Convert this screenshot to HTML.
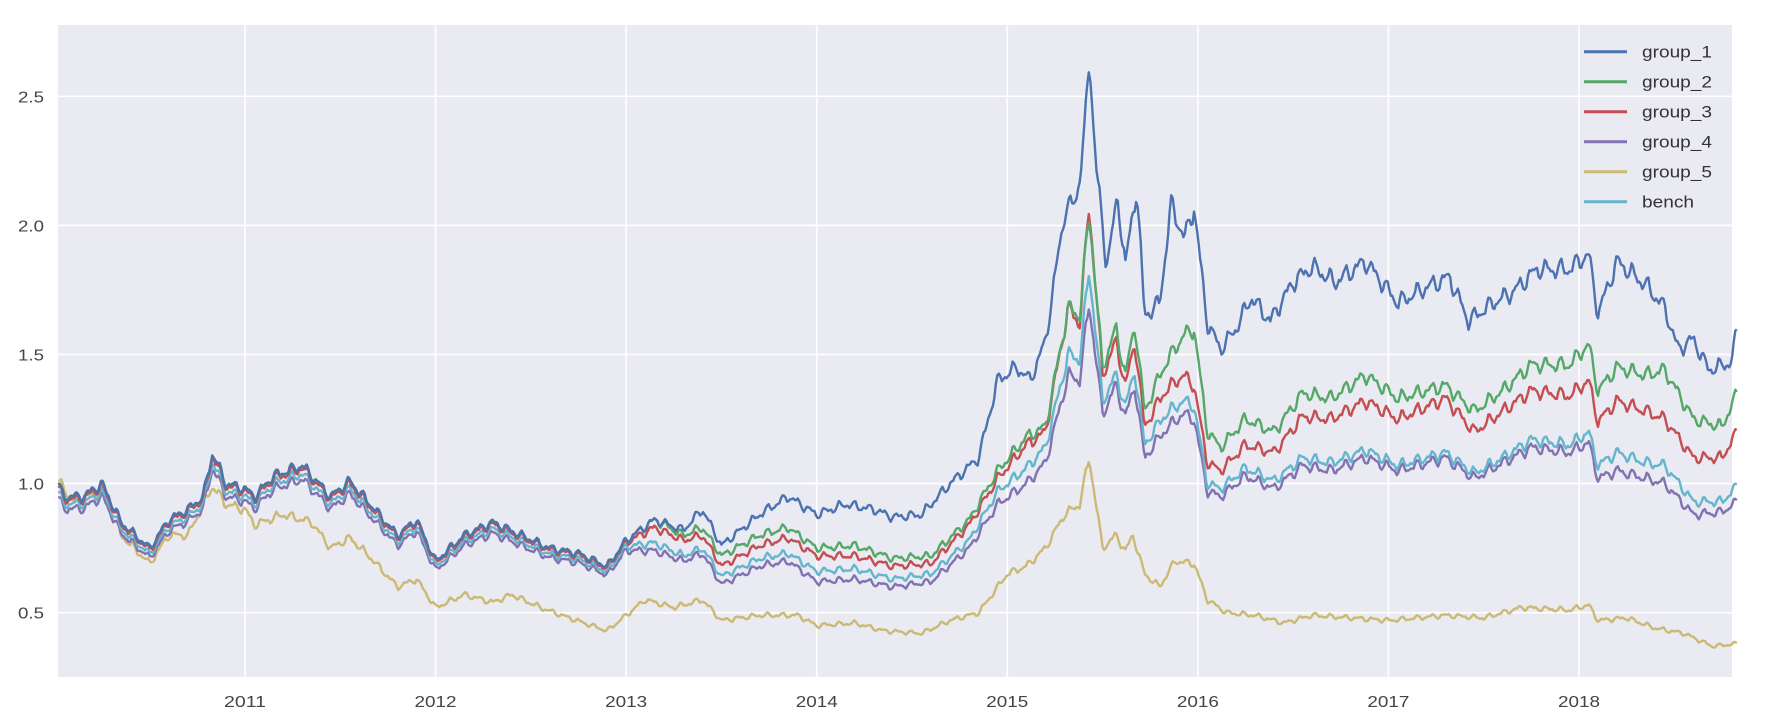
<!DOCTYPE html>
<html><head><meta charset="utf-8"><style>
body{margin:0;background:#fff;}
svg{display:block;font-family:"Liberation Sans",sans-serif;}
</style></head><body>
<svg id="s" width="1771" height="727" xmlns="http://www.w3.org/2000/svg">
<rect x="58" y="25" width="1674" height="652" fill="#EAEAF2"/>
<g id="grid" stroke="#fff" stroke-width="1.6"></g>
<g id="lbl" fill="#444" font-size="16"></g>
<g id="lines" fill="none" stroke-width="2.4" stroke-linejoin="round"></g>
<g id="leg" font-size="17" fill="#333"></g>
</svg>
<script>
var X0=58,X1=1732,Y0=25,Y1=677;
function xs(t){return 245+(t-2011)*190.57;}
function ys(v){return 483.6-(v-1)*258.2;}
var ns="http://www.w3.org/2000/svg";
function el(p,n,a,txt){var e=document.createElementNS(ns,n);for(var k in a)e.setAttribute(k,a[k]);if(txt)e.textContent=txt;document.getElementById(p).appendChild(e);return e;}
[0.5,1,1.5,2,2.5].forEach(function(v){var y=ys(v);el('grid','line',{x1:X0,x2:X1,y1:y,y2:y});el('lbl','text',{x:44,y:y+6,'text-anchor':'end',textLength:26,lengthAdjust:'spacingAndGlyphs'},v.toFixed(1));});
for(var yr=2011;yr<=2018;yr++){var x=xs(yr);el('grid','line',{x1:x,x2:x,y1:Y0,y2:Y1});el('lbl','text',{x:x-21,y:707,textLength:42,lengthAdjust:'spacingAndGlyphs'},''+yr);}
var g1=[[2010,1.03],[2010.05,0.95],[2010.15,0.95],[2010.25,1.0],[2010.35,0.85],[2010.5,0.75],[2010.6,0.86],[2010.7,0.9],[2010.78,0.95],[2010.83,1.12],[2010.9,1.0],[2011.0,0.98],[2011.05,0.95],[2011.15,1.03],[2011.3,1.07],[2011.45,0.95],[2011.55,1.01],[2011.8,0.8],[2011.9,0.86],[2012.0,0.7],[2012.15,0.8],[2012.3,0.85],[2012.45,0.8],[2012.6,0.75],[2012.75,0.73],[2012.9,0.68],[2013.0,0.78],[2013.15,0.86],[2013.3,0.82],[2013.4,0.9],[2013.5,0.76],[2013.7,0.88],[2013.85,0.95],[2014.0,0.88],[2014.15,0.92],[2014.3,0.9],[2014.4,0.87],[2014.55,0.88],[2014.7,1.0],[2014.85,1.1],[2014.95,1.4],[2015.05,1.45],[2015.12,1.4],[2015.2,1.55],[2015.3,2.05],[2015.36,2.1],[2015.4,2.3],[2015.43,2.65],[2015.47,2.2],[2015.52,1.85],[2015.58,2.1],[2015.62,1.85],[2015.68,2.15],[2015.72,1.65],[2015.8,1.7],[2015.86,2.08],[2015.93,1.95],[2015.98,2.07],[2016.05,1.62],[2016.12,1.52],[2016.2,1.6],[2016.28,1.72],[2016.38,1.63],[2016.5,1.78],[2016.6,1.84],[2016.72,1.78],[2016.88,1.86],[2017.05,1.7],[2017.2,1.76],[2017.32,1.8],[2017.42,1.63],[2017.55,1.7],[2017.65,1.74],[2017.78,1.83],[2017.95,1.83],[2018.05,1.89],[2018.1,1.66],[2018.2,1.86],[2018.35,1.77],[2018.45,1.68],[2018.52,1.52],[2018.6,1.56],[2018.68,1.44],[2018.8,1.47],[2018.83,1.6]];
function early(s,end){return g1.filter(function(p){return p[0]<=end;}).map(function(p){return [p[0],p[1]*s];});}
function mk(s,later){return early(s,2013.0).concat(later);}
var g2=mk(1.0,[[2013.15,0.86],[2013.3,0.8],[2013.4,0.83],[2013.5,0.72],[2013.7,0.8],[2013.85,0.83],[2014.0,0.75],[2014.2,0.76],[2014.4,0.71],[2014.6,0.72],[2014.8,0.86],[2014.95,1.05],[2015.1,1.18],[2015.2,1.22],[2015.32,1.68],[2015.38,1.65],[2015.43,2.05],[2015.5,1.45],[2015.57,1.6],[2015.62,1.42],[2015.67,1.62],[2015.72,1.28],[2015.82,1.45],[2015.92,1.57],[2015.98,1.6],[2016.05,1.2],[2016.12,1.14],[2016.25,1.25],[2016.4,1.2],[2016.55,1.35],[2016.7,1.33],[2016.88,1.42],[2017.05,1.33],[2017.3,1.38],[2017.45,1.28],[2017.6,1.36],[2017.75,1.46],[2017.95,1.46],[2018.05,1.54],[2018.1,1.36],[2018.2,1.45],[2018.35,1.42],[2018.45,1.44],[2018.6,1.25],[2018.75,1.22],[2018.83,1.35]]);
var g3=mk(0.99,[[2013.15,0.83],[2013.3,0.78],[2013.4,0.8],[2013.5,0.68],[2013.7,0.76],[2013.85,0.79],[2014.0,0.72],[2014.2,0.72],[2014.4,0.68],[2014.6,0.69],[2014.8,0.84],[2014.95,1.02],[2015.1,1.15],[2015.2,1.2],[2015.32,1.68],[2015.38,1.62],[2015.43,2.08],[2015.5,1.42],[2015.57,1.55],[2015.62,1.38],[2015.67,1.55],[2015.72,1.22],[2015.82,1.35],[2015.92,1.42],[2015.98,1.38],[2016.05,1.08],[2016.12,1.05],[2016.25,1.15],[2016.4,1.12],[2016.55,1.26],[2016.7,1.25],[2016.88,1.32],[2017.05,1.25],[2017.3,1.33],[2017.45,1.2],[2017.6,1.28],[2017.75,1.36],[2017.95,1.34],[2018.05,1.4],[2018.1,1.24],[2018.2,1.32],[2018.35,1.28],[2018.45,1.25],[2018.6,1.1],[2018.75,1.1],[2018.83,1.2]]);
var g4=mk(0.95,[[2013.15,0.74],[2013.3,0.7],[2013.4,0.73],[2013.5,0.61],[2013.7,0.68],[2013.85,0.7],[2014.0,0.62],[2014.2,0.63],[2014.4,0.6],[2014.6,0.62],[2014.8,0.75],[2014.95,0.92],[2015.1,1.0],[2015.2,1.08],[2015.32,1.42],[2015.38,1.4],[2015.43,1.7],[2015.5,1.27],[2015.57,1.38],[2015.62,1.26],[2015.67,1.38],[2015.72,1.1],[2015.82,1.2],[2015.92,1.27],[2015.98,1.25],[2016.05,0.97],[2016.12,0.95],[2016.25,1.03],[2016.4,0.98],[2016.55,1.07],[2016.7,1.05],[2016.88,1.1],[2017.05,1.05],[2017.3,1.1],[2017.45,1.02],[2017.6,1.08],[2017.75,1.14],[2017.95,1.12],[2018.05,1.16],[2018.1,1.02],[2018.2,1.05],[2018.35,1.02],[2018.45,1.0],[2018.6,0.88],[2018.75,0.89],[2018.83,0.93]]);
var bn=mk(0.97,[[2013.15,0.77],[2013.3,0.72],[2013.4,0.75],[2013.5,0.64],[2013.7,0.71],[2013.85,0.73],[2014.0,0.66],[2014.2,0.67],[2014.4,0.63],[2014.6,0.65],[2014.8,0.78],[2014.95,0.97],[2015.1,1.06],[2015.2,1.14],[2015.32,1.5],[2015.38,1.48],[2015.43,1.83],[2015.5,1.32],[2015.57,1.42],[2015.62,1.3],[2015.67,1.44],[2015.72,1.15],[2015.82,1.26],[2015.92,1.32],[2015.98,1.3],[2016.05,1.0],[2016.12,0.98],[2016.25,1.06],[2016.4,1.01],[2016.55,1.1],[2016.7,1.08],[2016.88,1.13],[2017.05,1.07],[2017.3,1.12],[2017.45,1.04],[2017.6,1.1],[2017.75,1.17],[2017.95,1.15],[2018.05,1.2],[2018.1,1.07],[2018.2,1.12],[2018.35,1.08],[2018.45,1.07],[2018.6,0.93],[2018.75,0.93],[2018.83,0.99]]);
var g5=[[2010,1.03],[2010.1,0.93],[2010.25,0.97],[2010.35,0.8],[2010.5,0.69],[2010.6,0.8],[2010.7,0.8],[2010.83,0.99],[2010.9,0.92],[2011.0,0.9],[2011.05,0.84],[2011.2,0.88],[2011.35,0.85],[2011.45,0.75],[2011.55,0.79],[2011.65,0.72],[2011.8,0.6],[2011.9,0.63],[2012.0,0.52],[2012.15,0.57],[2012.3,0.54],[2012.4,0.57],[2012.55,0.52],[2012.7,0.48],[2012.9,0.43],[2013.0,0.49],[2013.1,0.55],[2013.25,0.52],[2013.4,0.55],[2013.5,0.47],[2013.7,0.49],[2013.9,0.49],[2014.0,0.45],[2014.2,0.46],[2014.35,0.43],[2014.55,0.42],[2014.7,0.47],[2014.85,0.5],[2015.0,0.65],[2015.1,0.68],[2015.2,0.75],[2015.3,0.88],[2015.38,0.92],[2015.43,1.1],[2015.5,0.75],[2015.57,0.8],[2015.62,0.74],[2015.66,0.8],[2015.72,0.65],[2015.8,0.6],[2015.88,0.7],[2015.98,0.69],[2016.05,0.55],[2016.15,0.5],[2016.3,0.49],[2016.45,0.46],[2016.6,0.49],[2016.8,0.48],[2017.0,0.47],[2017.3,0.49],[2017.5,0.48],[2017.7,0.52],[2017.95,0.51],[2018.05,0.53],[2018.1,0.47],[2018.25,0.48],[2018.4,0.44],[2018.55,0.42],[2018.7,0.37],[2018.83,0.38]];
function interp(k,t){for(var i=1;i<k.length;i++){if(t<=k[i][0]){var a=k[i-1],b=k[i];var f=(t-a[0])/(b[0]-a[0]);return a[1]+(b[1]-a[1])*f;}}return k[k.length-1][1];}
function noise(t,sd){return 0.014*Math.sin(t*83)+0.008*Math.sin(t*151+1.3)+0.003*Math.sin(t*290+sd);}
function draw(k,col,sd){var d='';for(var t=2010.02;t<=2018.83;t+=0.008){var v=interp(k,t);v=v*(1+noise(t,sd));d+=(d?'L':'M')+xs(t).toFixed(1)+','+ys(v).toFixed(1);}el('lines','path',{d:d,stroke:col});}
draw(g5,'#CCB974',0.5);draw(g4,'#8172B2',1);draw(bn,'#64B5CD',2);draw(g3,'#C44E52',3);draw(g2,'#55A868',4);draw(g1,'#4C72B0',5);
var L=[['group_1','#4C72B0'],['group_2','#55A868'],['group_3','#C44E52'],['group_4','#8172B2'],['group_5','#CCB974'],['bench','#64B5CD']];
L.forEach(function(p,i){var y=51.7+i*30;el('leg','line',{x1:1584,x2:1627,y1:y,y2:y,stroke:p[1],'stroke-width':3});el('leg','text',{x:1642,y:y+6,textLength:(i<5?70:52),lengthAdjust:'spacingAndGlyphs'},p[0]);});
</script>
</body></html>
